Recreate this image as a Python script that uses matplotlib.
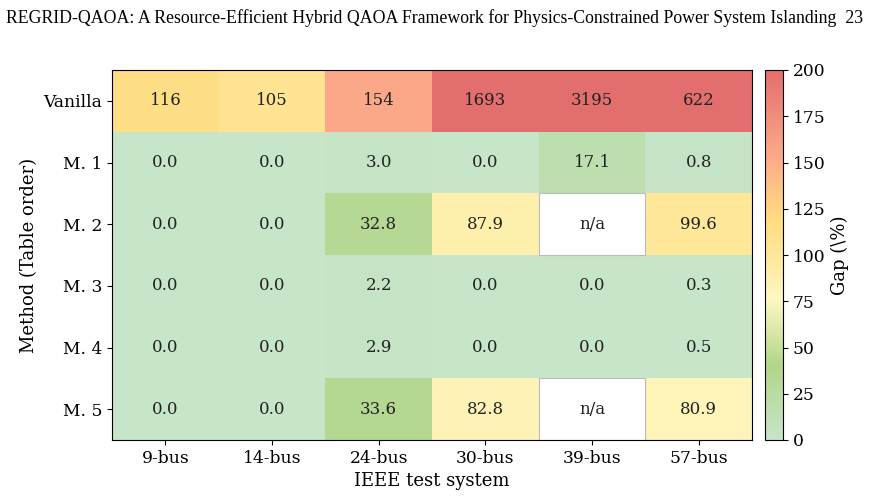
import numpy as np
import matplotlib.pyplot as plt
from matplotlib.colors import LinearSegmentedColormap
from matplotlib.patches import Rectangle

# Dados
sistemas = ["9-bus", "14-bus", "24-bus", "30-bus", "39-bus", "57-bus"]
metodos = ["Vanilla", "M. 1", "M. 2", "M. 3", "M. 4", "M. 5"]
vanilla = [116, 105, 154, 1693, 3195, 622]
m1 = [0.0, 0.0, 3.0, 0.0, 17.1, 0.8]
m2 = [0.0, 0.0, 32.8, 87.9, np.nan, 99.6]
m3 = [0.0, 0.0, 2.2, 0.0, 0.0, 0.3]
m4 = [0.0, 0.0, 2.9, 0.0, 0.0, 0.5]
m5 = [0.0, 0.0, 33.6, 82.8, np.nan, 80.9]

gap = np.array([vanilla, m1, m2, m3, m4, m5], dtype=float)

# Mapa de cores (verde claro -> amarelo -> vermelho)
cores = [(0.0, "#c6e5c9"), (0.2, "#b1d688"), (0.38, "#fff7c2"),
         (0.5, "#fee799"), (0.6, "#ffdc80"), (0.75, "#fdae8a"), (1.0, "#e36e6e")]
cmap = LinearSegmentedColormap.from_list("gap", cores)
cmap.set_bad("white")

plt.rcParams['font.family'] = 'DejaVu Serif'

fig = plt.figure(figsize=(8.69, 5.0), dpi=100)
ax = fig.add_axes([112/869, 60/500, 640/869, 370/500])
cax = fig.add_axes([765/869, 60/500, 18/869, 370/500])

im = ax.imshow(np.ma.masked_invalid(gap), cmap=cmap, vmin=0, vmax=200, aspect='auto')

n_lin, n_col = gap.shape
for i in range(n_lin):
    for j in range(n_col):
        v = gap[i, j]
        if np.isnan(v):
            ax.add_patch(Rectangle((j - 0.5, i - 0.5), 1, 1, facecolor='white',
                                   edgecolor='#bbbbbb', linewidth=0.8))
            txt = "n/a"
        elif i == 0:
            txt = f"{v:.0f}"
        else:
            txt = f"{v:.1f}"
        ax.text(j, i, txt, ha='center', va='center', fontsize=12, color='#222222')

ax.set_xticks(range(n_col))
ax.set_xticklabels(sistemas, fontsize=12.3)
ax.set_yticks(range(n_lin))
ax.set_yticklabels(metodos, fontsize=12.3)
ax.set_xlabel("IEEE test system", fontsize=13)
ax.set_ylabel("Method (Table order)", fontsize=13)

cb = fig.colorbar(im, cax=cax)
cb.set_ticks([0, 25, 50, 75, 100, 125, 150, 175, 200])
cb.ax.tick_params(labelsize=12.3)
cb.set_label("Gap (\\%)", fontsize=13)

# Cabeçalho da página
fig.text(6/869, 1 - 18/500,
         "REGRID-QAOA: A Resource-Efficient Hybrid QAOA Framework for Physics-Constrained Power System Islanding  23",
         fontsize=12.8, family='Liberation Serif', va='center', ha='left')

fig.savefig("out.png", dpi=100)
